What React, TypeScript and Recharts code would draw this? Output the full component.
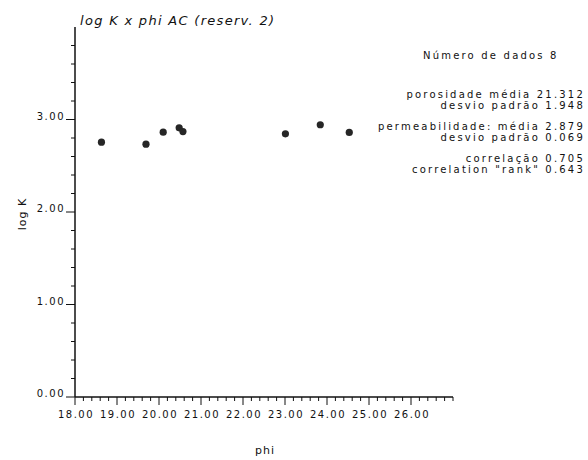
import React from "react";
import { Scatter, ScatterChart, XAxis, YAxis } from "recharts";

// porosidade (phi) x log K, reservatório 2
const phi = [18.63, 19.69, 20.1, 20.48, 20.57, 23.01, 23.84, 24.53];
const logK = [2.755, 2.733, 2.863, 2.91, 2.87, 2.845, 2.943, 2.86];

const xMajorTicks = [18, 19, 20, 21, 22, 23, 24, 25, 26];
const yMajorTicks = [0, 1, 2, 3];

const statsLines = [
  "porosidade  média 21.312",
  "desvio padrão 1.948",
  "permeabilidade: média 2.879",
  "desvio padrão 0.069",
  "correlação 0.705",
  'correlation "rank" 0.643',
];

const points = phi.map((x, i) => ({ phi: x, logK: logK[i] }));

const FONT = "DejaVu Sans";

// minor ticks every 0.2
const steps = (from: number, to: number, step: number) =>
  Array.from({ length: Math.round((to - from) / step) + 1 }, (_, i) =>
    Number((from + i * step).toFixed(2))
  );

const xTicks = steps(18, 27, 0.2);
const yTicks = steps(0, 3.8, 0.2);

const isMajor = (v: number, majors: number[]) =>
  majors.some((m) => Math.abs(m - v) < 1e-6);

function XTick({ x, y, payload }: any) {
  const major = isMajor(payload.value, xMajorTicks);
  return (
    <g>
      <line x1={x} x2={x} y1={y} y2={y + (major ? 8 : 4)} stroke="#111" />
      {major && (
        <text
          x={x + 1}
          y={y + 21}
          textAnchor="middle"
          fontFamily={FONT}
          fontSize={10}
          letterSpacing={1.5}
          fill="#111"
        >
          {payload.value.toFixed(2)}
        </text>
      )}
    </g>
  );
}

function YTick({ x, y, payload }: any) {
  const major = isMajor(payload.value, yMajorTicks);
  return (
    <g>
      <line x1={x} x2={x - (major ? 9 : 4)} y1={y} y2={y} stroke="#111" />
      {major && (
        <text
          x={x - 10}
          y={y}
          textAnchor="end"
          fontFamily={FONT}
          fontSize={10}
          letterSpacing={1.5}
          fill="#111"
        >
          {payload.value.toFixed(2)}
        </text>
      )}
    </g>
  );
}

function Dot(props: any) {
  return <circle cx={props.cx} cy={props.cy} r={3.6} fill="#262626" />;
}

export default function App() {
  return (
    <div
      style={{
        position: "absolute",
        left: 0,
        top: 0,
        width: 588,
        height: 460,
        background: "#fff",
      }}
    >
      <ScatterChart
        width={588}
        height={460}
        margin={{ top: 27, right: 135, bottom: 33, left: 25 }}
      >
        <XAxis
          type="number"
          dataKey="phi"
          domain={[18, 27]}
          ticks={xTicks}
          interval={0}
          tickSize={0}
          tickMargin={0}
          tickLine={false}
          tick={<XTick />}
          height={30}
          axisLine={{ stroke: "#111", strokeWidth: 1.5 }}
        />
        <YAxis
          type="number"
          dataKey="logK"
          domain={[0, 4]}
          ticks={yTicks}
          interval={0}
          tickSize={0}
          tickMargin={0}
          tickLine={false}
          tick={<YTick />}
          width={50}
          axisLine={{ stroke: "#111", strokeWidth: 1.5 }}
        />
        <Scatter data={points} shape={<Dot />} isAnimationActive={false} />
      </ScatterChart>
      <svg
        width={588}
        height={460}
        style={{ position: "absolute", left: 0, top: 0, pointerEvents: "none" }}
      >
        <text
          x={80}
          y={25}
          fontFamily={FONT}
          fontStyle="italic"
          fontSize={13}
          letterSpacing={1.3}
          fill="#111"
        >
          log K x phi AC (reserv. 2)
        </text>
        <text
          x={423}
          y={59}
          fontFamily={FONT}
          fontSize={10}
          letterSpacing={2.2}
          fill="#111"
        >
          Número de dados 8
        </text>
        {statsLines.map((line, i) => (
          <text
            key={i}
            x={585}
            y={[98, 109, 130, 141, 162, 173][i]}
            textAnchor="end"
            fontFamily={FONT}
            fontSize={10}
            letterSpacing={2.2}
            fill="#111"
          >
            {line}
          </text>
        ))}
        <text
          transform="translate(26 214) rotate(-90)"
          textAnchor="middle"
          fontFamily={FONT}
          fontSize={11}
          letterSpacing={1}
          fill="#111"
        >
          log K
        </text>
        <text
          x={265}
          y={454}
          textAnchor="middle"
          fontFamily={FONT}
          fontSize={11}
          letterSpacing={1}
          fill="#111"
        >
          phi
        </text>
      </svg>
    </div>
  );
}
